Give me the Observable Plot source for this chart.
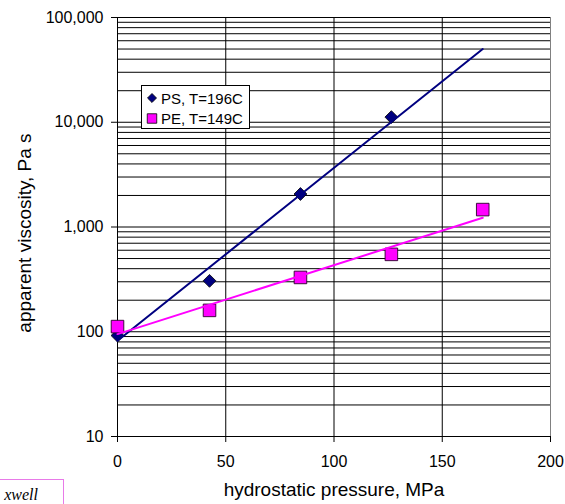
<!DOCTYPE html>
<html><head><meta charset="utf-8">
<script src="https://cdn.jsdelivr.net/npm/d3@7"></script>
<script src="https://cdn.jsdelivr.net/npm/@observablehq/plot@0.6"></script>
<style>
html,body{margin:0;padding:0;background:#fff;}
#chart{position:relative;width:565px;height:504px;overflow:hidden;}
</style></head><body><div id="chart"></div>
<script>
// ---- data ----
const seriesNames = ["PS, T=196C", "PE, T=149C"];
const seriesColors = ["#000080", "#ff00ff"];
const psPressure = [0, 42.5, 84.5, 126.5];
const psViscosity = [92, 306, 2065, 11200];
const pePressure = [0, 42.5, 84.5, 126.5, 168.7];
const peViscosity = [112, 160, 330, 548, 1466];
const trendPressure = [0, 168.7];
const psTrendViscosity = [82, 50000];
const peTrendViscosity = [95, 1225];
const xTicks = [0, 50, 100, 150, 200];
const yTicks = [10, 100, 1000, 10000, 100000];
const yGrid = [20, 30, 40, 50, 60, 70, 80, 90, 100,
  200, 300, 400, 500, 600, 700, 800, 900, 1000,
  2000, 3000, 4000, 5000, 6000, 7000, 8000, 9000, 10000,
  20000, 30000, 40000, 50000, 60000, 70000, 80000, 90000, 100000];
const xGrid = [50, 100, 150];
const xLabel = "hydrostatic pressure, MPa";
const yLabel = "apparent viscosity, Pa s";
const noteText = "xwell";

const ps = psPressure.map((p, i) => ({p, v: psViscosity[i]}));
const pe = pePressure.map((p, i) => ({p, v: peViscosity[i]}));
const psTrend = trendPressure.map((p, i) => ({p, v: psTrendViscosity[i]}));
const peTrend = trendPressure.map((p, i) => ({p, v: peTrendViscosity[i]}));

const plot = Plot.plot({
  width: 565, height: 504,
  marginLeft: 117, marginRight: 15, marginTop: 17, marginBottom: 68,
  style: {fontFamily: "'Liberation Sans', Arial, sans-serif", fontSize: "16px", background: "#fff", color: "#000"},
  x: {domain: [0, 200], ticks: xTicks, tickSize: 6, tickPadding: 13, label: null},
  y: {type: "log", domain: [10, 100000], ticks: yTicks, tickFormat: d3.format(","), tickSize: 6, tickPadding: 8, label: null},
  marks: [
    Plot.ruleY(yGrid, {stroke: "#000", strokeWidth: 1}),
    Plot.ruleX(xGrid, {stroke: "#000", strokeWidth: 1}),
    Plot.ruleX([200], {stroke: "#808080", strokeWidth: 1}),
    Plot.ruleX([0], {stroke: "#000", strokeWidth: 1}),
    Plot.ruleY([10], {stroke: "#000", strokeWidth: 1}),
    Plot.dot(ps, {x: "p", y: "v", symbol: "diamond2", r: 5.8, fill: seriesColors[0], stroke: "#000", strokeWidth: 0.8}),
    Plot.dot(pe, {x: "p", y: "v", symbol: "square", r: 7.1, fill: seriesColors[1], stroke: "#2a002a", strokeWidth: 0.9}),
    Plot.line(psTrend, {x: "p", y: "v", stroke: seriesColors[0], strokeWidth: 2}),
    Plot.line(peTrend, {x: "p", y: "v", stroke: seriesColors[1], strokeWidth: 2}),
    Plot.text([xLabel], {frameAnchor: "bottom", textAnchor: "middle", lineAnchor: "middle", dy: 53, fontSize: 19, fill: "#000"}),
    Plot.text([yLabel], {frameAnchor: "left", textAnchor: "middle", lineAnchor: "middle", dx: -93, dy: 6, rotate: -90, fontSize: 19, fill: "#000"})
  ]
});
document.getElementById("chart").appendChild(plot);

// ---- legend ----
const svg = d3.select(plot);
const lg = svg.append("g");
lg.append("rect").attr("x", 141.5).attr("y", 85.5).attr("width", 108).attr("height", 43)
  .attr("fill", "#fff").attr("stroke", "#000").attr("stroke-width", 1);
const legendSymbols = [d3.symbolDiamond2, d3.symbolSquare];
const legendSizes = [52, 90];
seriesNames.forEach((name, i) => {
  const cy = 98 + i * 20.5;
  lg.append("path").attr("transform", `translate(152,${cy})`)
    .attr("d", d3.symbol(legendSymbols[i], legendSizes[i])())
    .attr("fill", seriesColors[i]).attr("stroke", "#000").attr("stroke-width", 0.8);
  lg.append("text").attr("x", 161).attr("y", cy + 5.5).attr("text-anchor", "start")
    .attr("font-size", 15).attr("fill", "#000").text(name);
});

// ---- bottom-left note box fragment ----
const nb = svg.append("g");
nb.append("rect").attr("x", -10.5).attr("y", 479.5).attr("width", 74).attr("height", 40)
  .attr("fill", "none").attr("stroke", "#e87ae8").attr("stroke-width", 1);
nb.append("text").attr("x", 38).attr("y", 500).attr("text-anchor", "end")
  .attr("font-family", "'Liberation Serif', 'DejaVu Serif', serif").attr("font-style", "italic")
  .attr("font-size", 16).attr("fill", "#000").text(noteText);
</script>
</body></html>
